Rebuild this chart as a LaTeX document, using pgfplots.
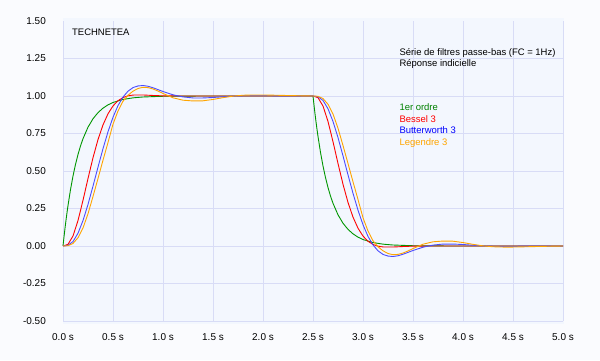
\documentclass[border=0pt]{standalone}
\usepackage{pgfplots}
\pgfplotsset{compat=1.18}
\usepackage{fontspec}
\setmainfont{Liberation Sans}
\definecolor{outerbg}{HTML}{FAFBFE}
\definecolor{plotbg}{HTML}{F3F7FE}
\definecolor{gridc}{HTML}{D8DCF6}
\definecolor{cgreen}{HTML}{009600}
\definecolor{tgreen}{HTML}{008000}
\definecolor{cred}{HTML}{FF0000}
\definecolor{cblue}{HTML}{4B4BFF}
\definecolor{tblue}{HTML}{0000FF}
\definecolor{corange}{HTML}{FFA500}
\begin{document}
\begin{tikzpicture}[x=1bp,y=1bp]
\useasboundingbox (0,0) rectangle (600,360);
\fill[outerbg] (0,0) rectangle (600,360);
\fill[plotbg] (63,36) rectangle (564,342);
\begin{axis}[
  at={(63bp,39bp)}, anchor=south west,
  scale only axis, width=500bp, height=300bp,
  xmin=0, xmax=5, ymin=-0.5, ymax=1.5,
  xtick={0,0.5,...,5.01},
  ytick={-0.5,-0.25,0,0.25,0.5,0.75,1,1.25},
  extra y ticks={1.5}, extra tick style={grid=none},
  grid=major,
  grid style={color=gridc, line width=0.9bp},
  axis line style={draw=none},
  tick style={draw=none},
  clip=false,
  font=\fontsize{10}{12}\selectfont,
  /pgf/number format/assume math mode=true,
  xticklabel={\pgfmathprintnumber[fixed,fixed zerofill,precision=1]{\tick} s},
  yticklabel={\pgfmathprintnumber[fixed,fixed zerofill,precision=2]{\tick}},
  xticklabel style={anchor=north, inner sep=0pt, yshift=-12bp},
  yticklabel style={anchor=east, inner sep=0pt, xshift=-17bp},
  every axis plot/.append style={line width=0.9bp, mark=none},
]
% 1er ordre
\addplot[cgreen] coordinates {(0,0) (0.01,0.0609) (0.02,0.1181) (0.03,0.1718) (0.04,0.2223) (0.05,0.2696) (0.075,0.3757) (0.1,0.4665) (0.125,0.5441) (0.15,0.6103) (0.175,0.6670) (0.2,0.7153) (0.25,0.7921) (0.3,0.8482) (0.35,0.8891) (0.4,0.9190) (0.45,0.9409) (0.5,0.9568) (0.6,0.9770) (0.7,0.9877) (0.8,0.9934) (1.0,0.9981) (1.2,0.9995) (1.5,0.9999) (2.5,1.0)
 (2.51,0.9391) (2.52,0.8819) (2.53,0.8282) (2.54,0.7777) (2.55,0.7304) (2.575,0.6243) (2.6,0.5335) (2.625,0.4559) (2.65,0.3897) (2.675,0.3330) (2.7,0.2847) (2.75,0.2079) (2.8,0.1518) (2.85,0.1109) (2.9,0.0810) (2.95,0.0591) (3.0,0.0432) (3.1,0.0230) (3.2,0.0123) (3.3,0.0066) (3.5,0.0019) (3.7,0.0005) (4.0,0.0001) (5.0,0)};
% Bessel 3
\addplot[cred] coordinates {(0,0) (0.05,0.0109) (0.1,0.0666) (0.15,0.1697) (0.2,0.3047) (0.25,0.4499) (0.3,0.5885) (0.35,0.7095) (0.4,0.8073) (0.45,0.8814) (0.5,0.9339) (0.55,0.9685) (0.6,0.9898) (0.65,1.0010) (0.7,1.0063) (0.8,1.0068) (0.9,1.0035) (1.0,1.001) (1.2,1.0) (2.5,1.0)
 (2.55,0.9891) (2.6,0.9334) (2.65,0.8303) (2.7,0.6953) (2.75,0.5501) (2.8,0.4115) (2.85,0.2905) (2.9,0.1927) (2.95,0.1186) (3.0,0.0661) (3.05,0.0315) (3.1,0.0102) (3.15,-0.0010) (3.2,-0.0063) (3.3,-0.0068) (3.4,-0.0035) (3.5,-0.001) (3.7,0) (5.0,0)};
% Butterworth 3
\addplot[cblue] coordinates {(0,0) (0.05,0.0046) (0.1,0.0298) (0.15,0.085) (0.2,0.1697) (0.25,0.2772) (0.3,0.3992) (0.35,0.5258) (0.4,0.6488) (0.45,0.7614) (0.5,0.8584) (0.55,0.936) (0.6,0.993) (0.65,1.032) (0.7,1.056) (0.75,1.067) (0.8,1.070) (0.85,1.065) (0.9,1.055) (1.0,1.030) (1.1,1.008) (1.2,0.994) (1.3,0.987) (1.4,0.987) (1.5,0.990) (1.6,0.995) (1.7,0.999) (1.8,1.0015) (2.0,1.002) (2.2,1.0006) (2.5,1.0)
 (2.55,0.9954) (2.6,0.9702) (2.65,0.915) (2.7,0.8303) (2.75,0.7228) (2.8,0.6008) (2.85,0.4742) (2.9,0.3512) (2.95,0.2386) (3.0,0.1416) (3.05,0.064) (3.1,0.007) (3.15,-0.032) (3.2,-0.056) (3.25,-0.067) (3.3,-0.070) (3.35,-0.065) (3.4,-0.055) (3.5,-0.030) (3.6,-0.008) (3.7,0.006) (3.8,0.013) (3.9,0.013) (4.0,0.010) (4.1,0.005) (4.2,0.001) (4.3,-0.0015) (4.4,-0.002) (4.7,-0.0006) (5.0,0)};
% Legendre 3
\addplot[corange] coordinates {(0,0) (0.05,0.002) (0.1,0.017) (0.15,0.055) (0.2,0.12) (0.25,0.215) (0.3,0.33) (0.35,0.45) (0.4,0.572) (0.45,0.69) (0.5,0.812) (0.55,0.90) (0.6,0.965) (0.65,1.005) (0.7,1.032) (0.75,1.05) (0.8,1.058) (0.85,1.056) (0.9,1.047) (0.95,1.033) (1.0,1.017) (1.1,0.988) (1.2,0.972) (1.3,0.967) (1.4,0.968) (1.5,0.977) (1.6,0.989) (1.7,0.999) (1.8,1.005) (1.9,1.007) (2.0,1.007) (2.2,1.004) (2.4,1.001) (2.5,1.0)
 (2.55,0.998) (2.6,0.983) (2.65,0.945) (2.7,0.88) (2.75,0.785) (2.8,0.67) (2.85,0.55) (2.9,0.428) (2.95,0.31) (3.0,0.188) (3.05,0.10) (3.1,0.035) (3.15,-0.005) (3.2,-0.032) (3.25,-0.05) (3.3,-0.058) (3.35,-0.056) (3.4,-0.047) (3.45,-0.033) (3.5,-0.017) (3.6,0.012) (3.7,0.028) (3.8,0.033) (3.9,0.032) (4.0,0.023) (4.1,0.011) (4.2,0.001) (4.3,-0.005) (4.4,-0.007) (4.5,-0.007) (4.7,-0.004) (4.9,-0.001) (5.0,0)};
\begin{scope}[every node/.style={anchor=west, inner sep=0pt, font=\fontsize{9.5}{11}\selectfont}]
\node at (axis cs:0.09,1.422) {TECHNETEA};
\node at (axis cs:3.363,1.284) {Série de filtres passe-bas (FC = 1Hz)};
\node at (axis cs:3.363,1.211) {Réponse indicielle};
\node[text=tgreen] at (axis cs:3.363,0.929) {1er ordre};
\node[text=cred] at (axis cs:3.363,0.849) {Bessel 3};
\node[text=tblue] at (axis cs:3.363,0.771) {Butterworth 3};
\node[text=corange] at (axis cs:3.363,0.689) {Legendre 3};
\end{scope}
\end{axis}
\end{tikzpicture}
\end{document}
